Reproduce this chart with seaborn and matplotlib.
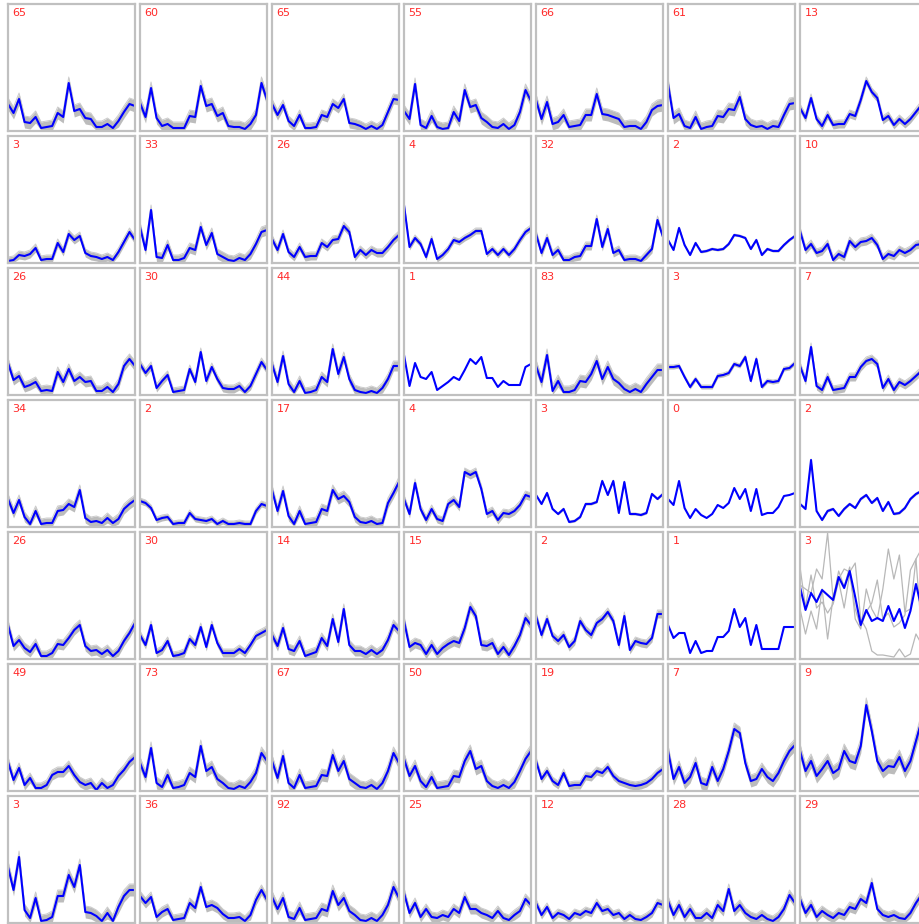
import numpy as np
import pandas as pd
import seaborn as sns
import matplotlib
matplotlib.use("Agg")
import matplotlib.pyplot as plt

sns.set_style("white")
plt.rcParams['font.family'] = ['DejaVu Sans']

hours = list(range(24))

counts = [
    65, 60, 65, 55, 66, 61, 13,
    3, 33, 26, 4, 32, 2, 10,
    26, 30, 44, 1, 83, 3, 7,
    34, 2, 17, 4, 3, 0, 2,
    26, 30, 14, 15, 2, 1, 3,
    49, 73, 67, 50, 19, 7, 9,
    3, 36, 92, 25, 12, 28, 29,
]

# mean profile of each cluster (height inside the cell), row by row
row0_means = [
    [27, 18, 32, 9, 8, 14, 3, 4, 5, 18, 14, 48, 20, 22, 13, 12, 4, 4, 7, 3, 10, 19, 27, 25],
    [28, 14, 43, 13, 5, 7, 3, 3, 3, 15, 14, 45, 25, 27, 15, 18, 5, 4, 4, 2, 7, 16, 48, 31],
    [27, 16, 26, 10, 5, 16, 3, 3, 4, 16, 14, 27, 23, 32, 8, 7, 5, 2, 5, 2, 6, 19, 32, 31],
    [20, 12, 47, 6, 3, 15, 4, 2, 3, 19, 10, 41, 24, 26, 13, 9, 4, 3, 7, 2, 6, 19, 41, 30],
    [31, 12, 29, 7, 9, 16, 4, 5, 6, 16, 16, 37, 17, 16, 14, 12, 4, 5, 5, 2, 9, 21, 25, 26],
    [47, 13, 17, 5, 3, 14, 2, 4, 5, 15, 14, 22, 21, 34, 12, 6, 4, 5, 2, 5, 4, 16, 27, 28],
    [23, 13, 33, 12, 5, 16, 6, 7, 7, 17, 15, 31, 50, 39, 33, 11, 15, 6, 12, 7, 12, 19, 26, 28],
]
row1_means = [
    [2, 3, 8, 7, 9, 15, 3, 4, 4, 20, 11, 29, 23, 27, 10, 7, 6, 4, 6, 3, 11, 21, 31, 23],
    [36, 13, 53, 6, 5, 18, 3, 3, 5, 15, 13, 36, 18, 30, 9, 6, 3, 2, 5, 3, 9, 19, 31, 33],
    [24, 13, 29, 11, 6, 16, 6, 7, 7, 20, 16, 23, 24, 37, 31, 6, 13, 8, 13, 10, 10, 16, 23, 28],
    [58, 16, 25, 19, 6, 24, 4, 8, 14, 23, 21, 25, 28, 32, 32, 9, 14, 8, 14, 8, 14, 23, 31, 35],
    [29, 10, 25, 8, 13, 3, 3, 6, 7, 17, 17, 44, 16, 34, 10, 13, 3, 4, 4, 2, 8, 14, 43, 26],
    [23, 13, 35, 18, 8, 20, 11, 12, 14, 13, 14, 19, 28, 27, 25, 14, 23, 8, 14, 12, 12, 18, 23, 27],
    [32, 13, 19, 10, 12, 19, 3, 9, 6, 22, 16, 21, 22, 25, 18, 4, 9, 7, 13, 10, 13, 18, 19, 22],
]
row2_means = [
    [32, 15, 19, 8, 10, 13, 4, 5, 4, 23, 13, 26, 14, 18, 13, 14, 4, 4, 8, 3, 11, 29, 36, 29],
    [31, 22, 29, 7, 14, 20, 3, 4, 5, 26, 13, 43, 14, 28, 16, 7, 6, 6, 9, 3, 9, 21, 33, 25],
    [31, 13, 39, 11, 3, 14, 2, 3, 5, 18, 13, 46, 21, 38, 16, 5, 3, 2, 4, 2, 7, 16, 29, 29],
    [40, 9, 32, 18, 16, 23, 5, 9, 13, 18, 15, 25, 36, 31, 38, 17, 17, 8, 14, 10, 10, 10, 28, 31],
    [29, 13, 40, 4, 14, 3, 3, 5, 14, 13, 21, 34, 16, 28, 16, 12, 6, 3, 6, 3, 11, 18, 25, 25],
    [28, 28, 29, 18, 8, 16, 8, 8, 8, 19, 20, 22, 31, 29, 38, 14, 36, 8, 14, 13, 14, 26, 27, 32],
    [29, 14, 48, 9, 5, 18, 5, 6, 7, 18, 18, 28, 34, 36, 31, 7, 16, 5, 13, 10, 14, 19, 24, 28],
]
row3_means = [
    [28, 14, 27, 10, 3, 16, 3, 4, 4, 16, 17, 23, 20, 37, 9, 5, 6, 4, 9, 4, 8, 18, 23, 27],
    [26, 24, 19, 7, 9, 10, 3, 4, 4, 14, 8, 7, 6, 8, 3, 6, 3, 3, 4, 3, 3, 16, 23, 21],
    [37, 16, 36, 11, 3, 16, 3, 4, 5, 18, 16, 37, 28, 31, 25, 10, 5, 4, 6, 3, 4, 24, 34, 45],
    [28, 13, 44, 18, 7, 18, 8, 6, 23, 27, 20, 55, 52, 55, 38, 13, 16, 7, 14, 13, 16, 22, 32, 30],
    [32, 23, 34, 18, 13, 18, 5, 6, 10, 23, 23, 25, 46, 32, 46, 14, 45, 13, 13, 12, 14, 33, 28, 33],
    [28, 22, 46, 19, 9, 18, 12, 9, 13, 22, 19, 24, 39, 28, 38, 16, 38, 12, 14, 14, 20, 31, 32, 34],
    [23, 18, 67, 16, 7, 16, 18, 11, 18, 23, 19, 28, 32, 24, 29, 16, 25, 13, 14, 19, 28, 33, 36, 38],
]
row4_means = [
    [34, 13, 19, 11, 7, 15, 3, 3, 6, 15, 14, 21, 29, 34, 13, 8, 9, 5, 9, 3, 8, 18, 26, 36],
    [24, 14, 34, 6, 9, 18, 3, 4, 6, 20, 14, 32, 12, 34, 16, 6, 6, 6, 10, 6, 14, 23, 26, 29],
    [24, 13, 31, 10, 8, 18, 3, 5, 7, 21, 13, 40, 17, 50, 14, 8, 8, 5, 9, 5, 9, 19, 34, 28],
    [38, 12, 16, 14, 5, 14, 5, 11, 15, 18, 16, 31, 52, 43, 14, 13, 16, 5, 12, 4, 13, 24, 41, 34],
    [43, 24, 40, 23, 18, 24, 12, 18, 38, 29, 24, 36, 40, 47, 38, 14, 43, 9, 18, 16, 15, 21, 45, 45],
    [34, 21, 26, 26, 6, 18, 6, 8, 8, 22, 22, 28, 50, 32, 41, 14, 34, 10, 10, 10, 10, 32, 32, 32],
    [72, 49, 66, 57, 69, 64, 59, 82, 71, 88, 62, 34, 49, 38, 41, 38, 53, 38, 50, 31, 48, 75, 51, 45],
]
row5_means = [
    [29, 11, 23, 6, 13, 3, 3, 6, 16, 19, 19, 25, 16, 9, 6, 8, 1, 8, 3, 6, 15, 21, 29, 34],
    [28, 14, 43, 8, 4, 16, 3, 4, 6, 18, 14, 45, 20, 24, 12, 8, 3, 2, 5, 3, 9, 18, 38, 30],
    [30, 13, 35, 8, 3, 16, 3, 4, 5, 16, 15, 36, 20, 30, 12, 8, 4, 3, 6, 2, 8, 20, 38, 28],
    [32, 15, 25, 10, 4, 14, 3, 4, 5, 15, 14, 30, 40, 22, 25, 10, 5, 3, 6, 3, 9, 20, 32, 40],
    [30, 12, 20, 10, 6, 18, 5, 6, 6, 15, 14, 20, 18, 24, 15, 10, 8, 6, 5, 6, 8, 12, 18, 22],
    [40, 12, 24, 8, 14, 28, 8, 6, 24, 10, 22, 40, 62, 58, 28, 10, 12, 22, 14, 10, 18, 30, 40, 46],
    [40, 20, 30, 15, 22, 30, 18, 22, 40, 30, 28, 45, 86, 60, 30, 20, 25, 24, 34, 20, 30, 50, 70, 60],
]
row6_means = [
    [56, 33, 66, 13, 5, 25, 2, 3, 6, 27, 27, 48, 36, 58, 11, 10, 7, 2, 10, 2, 16, 27, 33, 33],
    [27, 20, 26, 6, 11, 14, 3, 4, 5, 20, 15, 36, 16, 18, 15, 9, 5, 5, 6, 2, 8, 23, 33, 23],
    [26, 14, 25, 6, 4, 15, 3, 4, 5, 14, 12, 32, 18, 25, 12, 8, 3, 2, 5, 2, 8, 18, 36, 25],
    [30, 10, 20, 6, 14, 6, 5, 8, 6, 14, 10, 26, 14, 14, 10, 8, 5, 12, 5, 3, 8, 12, 24, 18],
    [20, 8, 16, 5, 10, 8, 4, 10, 8, 12, 10, 20, 12, 14, 8, 10, 4, 8, 4, 3, 6, 10, 20, 18],
    [22, 8, 18, 6, 14, 5, 5, 10, 5, 18, 12, 34, 12, 18, 10, 6, 4, 8, 4, 2, 6, 14, 28, 20],
    [24, 10, 18, 6, 12, 8, 5, 10, 8, 16, 14, 24, 20, 40, 14, 8, 6, 8, 5, 4, 10, 20, 28, 30],
]

# estimated half-width of the grey band of member profiles
spreads = [
    6, 6, 5, 6, 6, 6, 4,
    4, 5, 4, 3, 4, 1, 4,
    5, 4, 5, 0, 6, 2, 4,
    5, 3, 5, 4, 1, 0, 1,
    5, 4, 5, 5, 4, 0, 0,
    5, 6, 6, 6, 4, 6, 7,
    6, 5, 6, 5, 4, 5, 5,
]

# the three individual members of the widely scattered cluster (row 4, col 6)
wide_cluster_members = [
    [74, 70, 66, 90, 80, 126, 60, 88, 72, 92, 40, 30, 70, 50, 40, 70, 110, 80, 104, 47, 50, 100, 110, 100],
    [50, 25, 48, 30, 70, 20, 62, 80, 90, 87, 96, 40, 30, 8, 4, 4, 3, 2, 10, 2, 5, 25, 15, 10],
    [92, 52, 84, 51, 57, 46, 55, 78, 51, 85, 50, 32, 47, 56, 79, 40, 46, 32, 36, 44, 89, 100, 28, 25],
]
wide_cluster_index = 34

all_means = row0_means + row1_means + row2_means + row3_means + row4_means + row5_means + row6_means

W, H = 920, 924
fig = plt.figure(figsize=(W / 100, H / 100), dpi=100)

pitch = 132
cell_w, cell_h = 127, 127
x0, y0 = 8, 4

for idx, mean in enumerate(all_means):
    r, c = divmod(idx, 7)
    left = x0 + pitch * c
    top = y0 + pitch * r
    ax = fig.add_axes([left / W, 1 - (top + cell_h) / H, cell_w / W, cell_h / H])
    df = pd.DataFrame({"hour": hours, "value": mean})
    s = spreads[idx]
    if idx == wide_cluster_index:
        for m in wide_cluster_members:
            mdf = pd.DataFrame({"hour": hours, "value": m})
            sns.lineplot(data=mdf, x="hour", y="value", ax=ax, color="#b8b8b8",
                         linewidth=0.9, legend=False)
    elif s > 0:
        lo = np.clip(np.array(mean) - s, 0.5, None)
        hi = np.array(mean) + s
        ax.fill_between(hours, lo, hi, color="#bcbcbc", linewidth=0)
        ax.plot(hours, hi, color="#cccccc", linewidth=0.7)
    sns.lineplot(data=df, x="hour", y="value", ax=ax, color="#0000ff",
                 linewidth=1.5, legend=False)
    ax.set_xlim(0, 23)
    ax.set_ylim(0, 127)
    ax.set_xticks([])
    ax.set_yticks([])
    ax.set_xlabel("")
    ax.set_ylabel("")
    for sp in ax.spines.values():
        sp.set_visible(True)
        sp.set_color("#c0c0c0")
        sp.set_linewidth(1.6)
    ax.text(0.035, 0.965, str(counts[idx]), transform=ax.transAxes,
            color="#ff2a2a", fontsize=8, ha="left", va="top")

fig.savefig("out.png", dpi=100)
